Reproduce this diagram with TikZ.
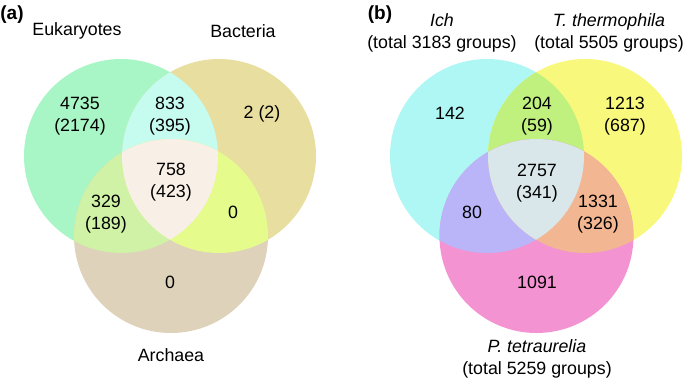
\documentclass[tikz,border=0pt]{standalone}
\usepackage{fontspec}
\setmainfont{Liberation Sans}
\usetikzlibrary{positioning}
% Region colours, panel (a)
\definecolor{euk colour}{HTML}{A8F5C5}
\definecolor{bac colour}{HTML}{E8DEA0}
\definecolor{arc colour}{HTML}{DFD2BB}
\definecolor{euk bac colour}{HTML}{C6FBF0}
\definecolor{euk arc colour}{HTML}{CFF2A6}
\definecolor{bac arc colour}{HTML}{E5FB8C}
\definecolor{all a colour}{HTML}{F8EFE6}
% Region colours, panel (b)
\definecolor{ich colour}{HTML}{AFF7F4}
\definecolor{tth colour}{HTML}{F8F87C}
\definecolor{pte colour}{HTML}{F393D2}
\definecolor{ich tth colour}{HTML}{C0F07E}
\definecolor{ich pte colour}{HTML}{B9B5F8}
\definecolor{tth pte colour}{HTML}{F2B792}
\definecolor{all b colour}{HTML}{D9E6EA}
\tikzset{
    % Everything centred, in the same sans face
    every node/.style={align=center, font=\fontsize{17.8}{22}\selectfont},
%
    count/.style={inner sep=0pt},
    set label/.style={inner sep=0pt},
    panel label/.style={inner sep=0pt, font=\fontsize{19}{22}\selectfont\bfseries},
}
\newcommand{\vennr}{97}

\begin{document}
\begin{tikzpicture}[
    x=1pt, y=-1pt]

\useasboundingbox (0,0) rectangle (685,378);

% Panel (a)
\coordinate (euk) at (121,156);
\coordinate (bac) at (219,156);
\coordinate (arc) at (171,236);

\fill [euk colour] (euk) circle [radius=\vennr];
\fill [bac colour] (bac) circle [radius=\vennr];
\fill [arc colour] (arc) circle [radius=\vennr];
\begin{scope}
    \clip (euk) circle [radius=\vennr];
    \fill [euk bac colour] (bac) circle [radius=\vennr];
    \fill [euk arc colour] (arc) circle [radius=\vennr];
\end{scope}
\begin{scope}
    \clip (bac) circle [radius=\vennr];
    \fill [bac arc colour] (arc) circle [radius=\vennr];
\end{scope}
\begin{scope}
    \clip (euk) circle [radius=\vennr];
    \clip (bac) circle [radius=\vennr];
    \fill [all a colour] (arc) circle [radius=\vennr];
\end{scope}

\path
    (12,15) node [panel label] (label a) {(a)}
    (77,31) node [set label] (euk name) {Eukaryotes}
    (243,31) node [set label] (bac name) {Bacteria}
    (171,355) node [set label] (arc name) {Archaea}
    (80,116) node [count] (euk only) {4735\\(2174)}
    (170,116) node [count] (euk bac) {833\\(395)}
    (262,114) node [count] (bac only) {2 (2)}
    (171,182) node [count] (all a) {758\\(423)}
    (106,214) node [count] (euk arc) {329\\(189)}
    (233,212) node [count] (bac arc) {0}
    (170,282) node [count] (arc only) {0};

% Panel (b)
\coordinate (ich) at (487,156);
\coordinate (tth) at (585,156);
\coordinate (pte) at (536.5,236);

\fill [ich colour] (ich) circle [radius=\vennr];
\fill [tth colour] (tth) circle [radius=\vennr];
\fill [pte colour] (pte) circle [radius=\vennr];
\begin{scope}
    \clip (ich) circle [radius=\vennr];
    \fill [ich tth colour] (tth) circle [radius=\vennr];
    \fill [ich pte colour] (pte) circle [radius=\vennr];
\end{scope}
\begin{scope}
    \clip (tth) circle [radius=\vennr];
    \fill [tth pte colour] (pte) circle [radius=\vennr];
\end{scope}
\begin{scope}
    \clip (ich) circle [radius=\vennr];
    \clip (tth) circle [radius=\vennr];
    \fill [all b colour] (pte) circle [radius=\vennr];
\end{scope}

\path
    (380,15) node [panel label] (label b) {(b)}
    (442,33) node [set label] (ich name) {\textit{Ich}\\(total 3183 groups)}
    (609,33) node [set label] (tth name) {\textit{T. thermophila}\\(total 5505 groups)}
    (537,359) node [set label] (pte name) {\textit{P. tetraurelia}\\(total 5259 groups)}
    (450,113) node [count] (ich only) {142}
    (537,116) node [count] (ich tth) {204\\(59)}
    (625,116) node [count] (tth only) {1213\\(687)}
    (537,183) node [count] (all b) {2757\\(341)}
    (472,212) node [count] (ich pte) {80}
    (598,214) node [count] (tth pte) {1331\\(326)}
    (537,282) node [count] (pte only) {1091};

\end{tikzpicture}
\end{document}
